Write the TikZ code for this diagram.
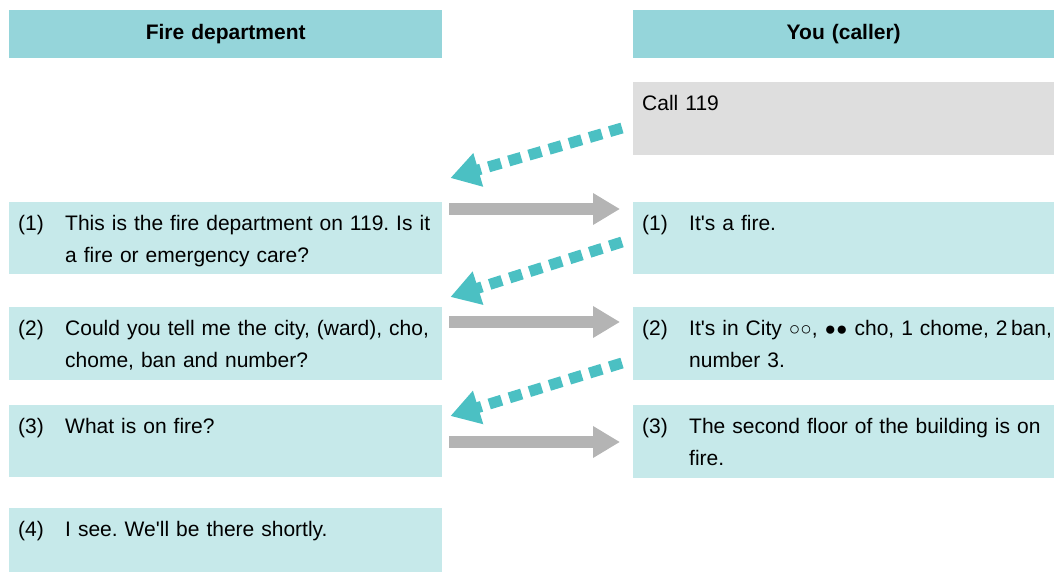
\documentclass[tikz,border=0pt]{standalone}
\usepackage{fontspec}
\setmainfont{Liberation Sans}[Ligatures=TeXOff]
\usetikzlibrary{arrows.meta}
\definecolor{titlecol}{RGB}{149,213,218}
\definecolor{msgcol}{RGB}{198,233,234}
\definecolor{callcol}{RGB}{222,222,222}
\definecolor{replycol}{RGB}{75,192,195}
\definecolor{sendcol}{RGB}{180,180,180}
\newcommand{\numline}[3][368pt]{\makebox[47pt][l]{#2}\parbox[t]{#1}{\raggedright #3}}
\newcommand{\dotmark}[1]{{\fontsize{19}{32}\selectfont #1}}
\frenchspacing
\hbadness=10000 \hfuzz=20pt
\begin{document}
\begin{tikzpicture}[x=1pt,y=-1pt,
  font=\fontsize{21}{32}\selectfont,
  titlebox/.style={fill=titlecol,anchor=north west,inner sep=0pt,text width=#1,align=center,
    text height=29pt,text depth=19pt,font=\fontsize{21}{32}\selectfont\bfseries},
  msg/.style={fill=msgcol,anchor=north west,inner xsep=9pt,inner ysep=0pt,align=left,
    text height=28pt,text depth=#1},
  sendarrow/.style={draw=sendcol,line width=12pt,-{Triangle[length=27pt,width=30pt]}},
  replyarrow/.style={draw=replycol,line width=11pt,dash pattern=on 13pt off 8pt,
    -{Triangle[length=29pt,width=33pt]}}]
\useasboundingbox (0,0) rectangle (1054,573);
\node[titlebox=433pt] (fd) at (9,10) {Fire department};
\node[titlebox=421pt] (you) at (633,10) {You (caller)};
\node[msg=45pt,fill=callcol,text width=403pt] (c0) at (633,82) {Call 119};
\node[msg=44pt,text width=415pt] (f1) at (9,202) {\numline{(1)}{This is the fire department on 119. Is it\\ a fire or emergency care?}};
\node[msg=45pt,text width=415pt] (f2) at (9,307) {\numline{(2)}{Could you tell me the city, (ward), cho,\\ chome, ban and number?}};
\node[msg=44pt,text width=415pt] (f3) at (9,405) {\numline{(3)}{What is on fire?}};
\node[msg=36pt,text width=415pt] (f4) at (9,508) {\numline{(4)}{I see. We'll be there shortly.}};
\node[msg=44pt,text width=403pt] (y1) at (633,202) {\numline[356pt]{(1)}{It's a fire.}};
\node[msg=45pt,text width=403pt] (y2) at (633,307) {\numline[356pt]{(2)}{\mbox{It's in City \dotmark{○○}, \dotmark{●●} cho, 1 chome, 2\,ban,}\\ number 3.}};
\node[msg=45pt,text width=403pt] (y3) at (633,405) {\numline[356pt]{(3)}{The second floor of the building is on\\ fire.}};
\draw[replyarrow] ([xshift=-11pt,yshift=-46pt]c0.north west) -- ([xshift=8pt,yshift=24pt]f1.north east);
\draw[sendarrow] ([xshift=7pt,yshift=-7pt]f1.north east) -- ([xshift=-13pt,yshift=-7pt]y1.north west);
\draw[replyarrow] ([xshift=-11pt,yshift=-40pt]y1.north west) -- ([xshift=8pt,yshift=10pt]f2.north east);
\draw[sendarrow] ([xshift=7pt,yshift=-15pt]f2.north east) -- ([xshift=-13pt,yshift=-15pt]y2.north west);
\draw[replyarrow] ([xshift=-11pt,yshift=-56pt]y2.north west) -- ([xshift=8pt,yshift=-11pt]f3.north east);
\draw[sendarrow] ([xshift=7pt,yshift=-37pt]f3.north east) -- ([xshift=-13pt,yshift=-37pt]y3.north west);
\end{tikzpicture}
\end{document}
